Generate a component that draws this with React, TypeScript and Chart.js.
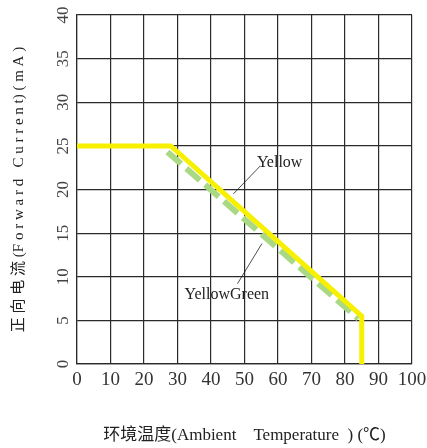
import React, { useEffect, useRef } from 'react';
import { Chart, registerables } from 'chart.js';

Chart.register(...registerables);

// ---- data ----
const yellowX = [0, 28, 85, 85];
const yellowY = [25, 25, 5.5, 0];
const greenX = [27, 84];
const greenY = [24.3, 5.2];

const xMin = 0, xMax = 100, xStep = 10;
const yMin = 0, yMax = 40, yStep = 5;

const xTitle = '环境温度(Ambient    Temperature  ) (℃)';
const yTitle = '正 向 电 流 (F o r w a r d   C u r r e n t) ( m A )';

// annotation labels (data coordinates)
const labelNames = ['Yellow', 'YellowGreen'];
const labelX = [53.7, 32.1];
const labelY = [23.1, 7.9];
const leaderX1 = [54.7, 55.2];
const leaderY1 = [22.7, 13.8];
const leaderX2 = [46.7, 47.9];
const leaderY2 = [19.5, 9.2];

const SERIF = '"Liberation Serif", "Times New Roman", "Noto Sans CJK SC", serif';

const annotationPlugin = {
  id: 'labels',
  afterDatasetsDraw(chart: any) {
    const { ctx, scales } = chart;
    const xs = scales.x, ys = scales.y;
    ctx.save();
    ctx.strokeStyle = '#222';
    ctx.lineWidth = 0.8;
    for (let i = 0; i < labelNames.length; i++) {
      ctx.beginPath();
      ctx.moveTo(xs.getPixelForValue(leaderX1[i]), ys.getPixelForValue(leaderY1[i]));
      ctx.lineTo(xs.getPixelForValue(leaderX2[i]), ys.getPixelForValue(leaderY2[i]));
      ctx.stroke();
    }
    ctx.fillStyle = '#222';
    ctx.font = `16px ${SERIF}`;
    ctx.textAlign = 'left';
    ctx.textBaseline = 'middle';
    for (let i = 0; i < labelNames.length; i++) {
      ctx.fillText(labelNames[i], xs.getPixelForValue(labelX[i]), ys.getPixelForValue(labelY[i]));
    }
    ctx.restore();
  },
};

export default function App() {
  const ref = useRef<HTMLCanvasElement>(null);
  useEffect(() => {
    document.body.style.margin = '0';
    const gridColor = '#2a2a2a';
    const chart = new Chart(ref.current!, {
      type: 'line',
      data: {
        datasets: [
          {
            label: 'Yellow',
            data: yellowX.map((x, i) => ({ x, y: yellowY[i] })),
            borderColor: '#f7f000',
            borderWidth: 5,
            pointRadius: 0,
            fill: false,
            tension: 0,
            order: 0,
          },
          {
            label: 'YellowGreen',
            data: greenX.map((x, i) => ({ x, y: greenY[i] })),
            borderColor: '#a9d984',
            borderWidth: 6,
            borderDash: [18, 7],
            pointRadius: 0,
            fill: false,
            tension: 0,
            order: 1,
          },
        ],
      },
      options: {
        responsive: false,
        animation: false,
        layout: { padding: { top: 15, right: 15, left: 0, bottom: 0 } },
        plugins: { legend: { display: false }, tooltip: { enabled: false } },
        scales: {
          x: {
            type: 'linear',
            min: xMin,
            max: xMax,
            ticks: {
              stepSize: xStep,
              color: '#333',
              font: { family: SERIF, size: 19 },
              padding: 5,
              maxRotation: 0,
            },
            grid: { color: gridColor, lineWidth: 1.2, drawTicks: false },
            border: { color: gridColor, width: 1.2 },
            title: {
              display: true,
              text: xTitle,
              color: '#222',
              font: { family: SERIF, size: 17 },
              padding: { top: 30, bottom: 2 },
            },
            afterFit: (s: any) => {
              s.height = 84;
              s.paddingRight = 0;
              s.paddingLeft = 0;
            },
          },
          y: {
            type: 'linear',
            min: yMin,
            max: yMax,
            ticks: {
              stepSize: yStep,
              color: '#444',
              font: { family: SERIF, size: 17 },
              padding: 5,
              minRotation: 90,
              maxRotation: 90,
              crossAlign: 'center',
            },
            grid: { color: gridColor, lineWidth: 1.2, drawTicks: false },
            border: { color: gridColor, width: 1.2 },
            title: {
              display: true,
              text: yTitle,
              color: '#222',
              font: { family: SERIF, size: 15 },
              padding: { top: 10, bottom: 0 },
            },
            afterFit: (s: any) => {
              s.width = 77;
              s.paddingTop = 0;
              s.paddingBottom = 0;
            },
          },
        },
      },
      plugins: [annotationPlugin],
    } as any);
    return () => chart.destroy();
  }, []);
  return (
    <div style={{ position: 'absolute', left: 0, top: 0, width: 427, height: 448 }}>
      <canvas ref={ref} width={427} height={448} style={{ display: 'block' }} />
    </div>
  );
}
